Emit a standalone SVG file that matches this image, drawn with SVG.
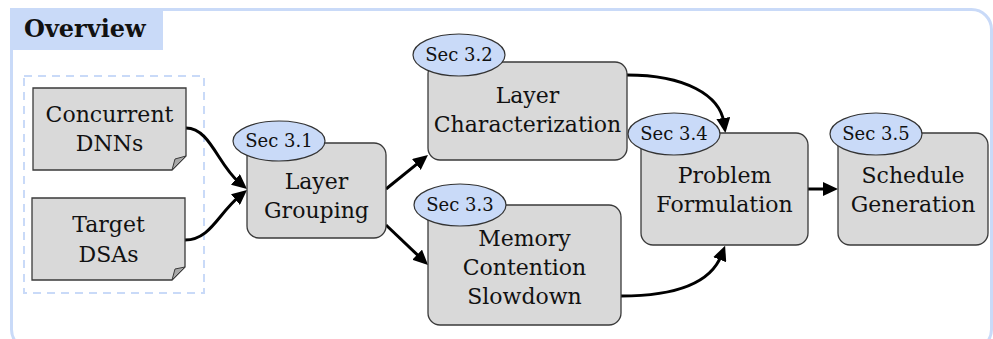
<svg xmlns="http://www.w3.org/2000/svg" width="993" height="339" viewBox="0 0 993 339">
  <defs>
    <style>
      .frame { fill: #ffffff; stroke: #c9daf8; stroke-width: 3; }
      .tab { fill: #c9daf8; }
      .title { font-family: "DejaVu Serif", "Liberation Serif", serif; font-weight: bold; font-size: 24px; fill: #111; }
      .group { fill: none; stroke: #c9daf8; stroke-width: 2; stroke-dasharray: 8 6; }
      .box { fill: #d9d9d9; stroke: #3a3a3a; stroke-width: 1.3; }
      .fold { fill: #a8a8a8; stroke: #3a3a3a; stroke-width: 1; stroke-linejoin: round; }
      .sec { fill: #c9daf8; stroke: #333; stroke-width: 1.2; }
      .label { font-family: "DejaVu Serif", "Liberation Serif", serif; font-size: 22px; fill: #111; text-anchor: middle; }
      .seclabel { font-family: "DejaVu Serif", "Liberation Serif", serif; font-size: 18px; fill: #111; text-anchor: middle; }
      .edge { fill: none; stroke: #000; stroke-width: 3; marker-end: url(#arrow); }
    </style>
    <marker id="arrow" markerUnits="userSpaceOnUse" markerWidth="15" markerHeight="14" refX="5" refY="7" orient="auto">
      <path d="M0,0 L15,7 L0,14 Z" fill="#000"/>
    </marker>
  </defs>

  <!-- outer panel -->
  <rect class="frame" x="11.5" y="9.5" width="980" height="340" rx="20"/>
  <rect class="tab" x="10" y="8" width="153" height="42"/>
  <text class="title" x="24" y="37">Overview</text>

  <!-- dashed input group -->
  <rect class="group" x="24" y="76" width="180" height="217"/>

  <!-- connectors -->
  <g id="connectors">
    <path class="edge" d="M186,128 C210,128 218,165 239.3,182.6"/>
    <path class="edge" d="M185,240 C210,240 218,214 239.3,196.4"/>
    <path class="edge" d="M386,189 L420.2,161.3"/>
    <path class="edge" d="M386,225 L420.8,258.1"/>
    <path class="edge" d="M627,75 C685,75 720,95 724,123"/>
    <path class="edge" d="M621,296 C670,296 710,285 721.5,255"/>
    <path class="edge" d="M808,189 L828,189"/>
  </g>

  <!-- input documents -->
  <g id="concurrent-dnns">
    <path class="box" d="M33,88 H186 V156 L172,170 H33 Z"/>
    <path class="fold" d="M186,156 L172,170 L175,159 Z"/>
    <text class="label" x="109.5" y="122">Concurrent</text>
    <text class="label" x="109.5" y="151">DNNs</text>
  </g>
  <g id="target-dsas">
    <path class="box" d="M32,198 H185 V267 L172,280 H32 Z"/>
    <path class="fold" d="M185,267 L172,280 L175,269 Z"/>
    <text class="label" x="108.5" y="232">Target</text>
    <text class="label" x="108.5" y="262">DSAs</text>
  </g>

  <!-- process steps -->
  <g id="layer-grouping">
    <rect class="box" x="247" y="143" width="139" height="95" rx="12"/>
    <ellipse class="sec" cx="279" cy="141" rx="46" ry="20"/>
    <text class="seclabel" x="279" y="147">Sec 3.1</text>
    <text class="label" x="316.5" y="189">Layer</text>
    <text class="label" x="316.5" y="218">Grouping</text>
  </g>

  <g id="layer-characterization">
    <rect class="box" x="428" y="62" width="199" height="98" rx="12"/>
    <ellipse class="sec" cx="459" cy="55" rx="46" ry="21"/>
    <text class="seclabel" x="459" y="61">Sec 3.2</text>
    <text class="label" x="527.5" y="103">Layer</text>
    <text class="label" x="527.5" y="132">Characterization</text>
  </g>

  <g id="memory-contention">
    <rect class="box" x="428" y="205" width="193" height="120" rx="12"/>
    <ellipse class="sec" cx="460" cy="205" rx="46" ry="21"/>
    <text class="seclabel" x="460" y="211">Sec 3.3</text>
    <text class="label" x="524.5" y="246">Memory</text>
    <text class="label" x="524.5" y="275">Contention</text>
    <text class="label" x="524.5" y="304">Slowdown</text>
  </g>

  <g id="problem-formulation">
    <rect class="box" x="641" y="133" width="167" height="112" rx="12"/>
    <ellipse class="sec" cx="674" cy="134" rx="46" ry="21"/>
    <text class="seclabel" x="674" y="140">Sec 3.4</text>
    <text class="label" x="724.5" y="183">Problem</text>
    <text class="label" x="724.5" y="212">Formulation</text>
  </g>

  <g id="schedule-generation">
    <rect class="box" x="838" y="133" width="150" height="112" rx="12"/>
    <ellipse class="sec" cx="876" cy="134" rx="46" ry="21"/>
    <text class="seclabel" x="876" y="140">Sec 3.5</text>
    <text class="label" x="913" y="183">Schedule</text>
    <text class="label" x="913" y="212">Generation</text>
  </g>
</svg>
